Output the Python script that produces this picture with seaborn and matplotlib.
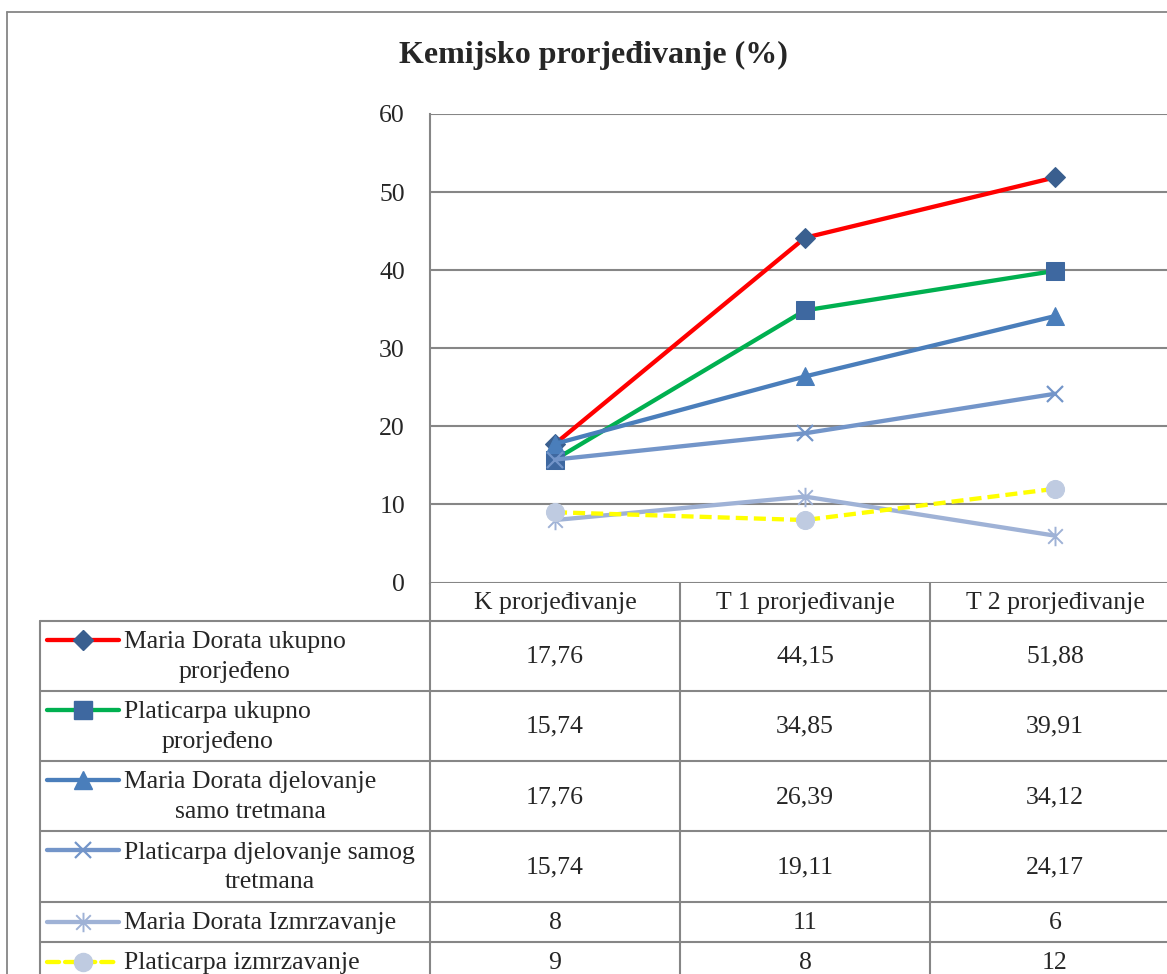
import numpy as np
import pandas as pd
import matplotlib
matplotlib.use("Agg")
import matplotlib.pyplot as plt
from matplotlib.path import Path
from matplotlib.lines import Line2D
import seaborn as sns

# chart data
title = "Kemijsko prorjeđivanje (%)"
categories = ["K prorjeđivanje", "T 1 prorjeđivanje", "T 2 prorjeđivanje"]
series_names = [
    "Maria Dorata ukupno\nprorjeđeno",
    "Platicarpa ukupno\nprorjeđeno",
    "Maria Dorata djelovanje\nsamo tretmana",
    "Platicarpa djelovanje samog\ntretmana",
    "Maria Dorata Izmrzavanje",
    "Platicarpa izmrzavanje",
]
md_ukupno = [17.76, 44.15, 51.88]
pl_ukupno = [15.74, 34.85, 39.91]
md_tretman = [17.76, 26.39, 34.12]
pl_tretman = [15.74, 19.11, 24.17]
md_izmrz = [8, 11, 6]
pl_izmrz = [9, 8, 12]
all_values = [md_ukupno, pl_ukupno, md_tretman, pl_tretman, md_izmrz, pl_izmrz]
y_ticks = [0, 10, 20, 30, 40, 50, 60]

# Excel-like star marker (vertical bar + X)
star = Path([(0, -1), (0, 1), (-0.75, -0.75), (0.75, 0.75), (-0.75, 0.75), (0.75, -0.75)],
            [Path.MOVETO, Path.LINETO, Path.MOVETO, Path.LINETO, Path.MOVETO, Path.LINETO])

styles = [
    dict(color="#FF0000", marker="D", markersize=10.5, markerfacecolor="#3A5F8F", markeredgecolor="#3A5F8F"),
    dict(color="#00B050", marker="s", markersize=12.5, markerfacecolor="#3E68A0", markeredgecolor="#3E68A0"),
    dict(color="#4A7EBB", marker="^", markersize=12.5, markerfacecolor="#4A7EBB", markeredgecolor="#4A7EBB"),
    dict(color="#7395C9", marker="x", markersize=12, markeredgewidth=1.6, markeredgecolor="#7395C9"),
    dict(color="#9FB2D6", marker=star, markersize=14, markeredgewidth=1.4, markeredgecolor="#9FB2D6"),
    dict(color="#FFFF00", marker="o", markersize=13, markerfacecolor="#BFCBE1", markeredgecolor="#BFCBE1",
         linestyle=(0, (2.8, 1.4))),
]

GRAY = "#868686"
FS = 18.5

sns.set_style("white")
plt.rcParams['font.family'] = ['Liberation Serif', 'DejaVu Serif']

W, H = 1167, 974
fig = plt.figure(figsize=(W / 100, H / 100), dpi=100)

# overlay in pixel coordinates for frame and data table
ax_t = fig.add_axes([0, 0, 1, 1])
ax_t.set_xlim(0, W)
ax_t.set_ylim(H, 0)
ax_t.axis("off")

# plot area
left, right, top, bottom = 430, 1180, 114, 582.5
ax = fig.add_axes([left / W, 1 - bottom / H, (right - left) / W, (bottom - top) / H])
ax.patch.set_alpha(0)

for vals, st in zip(all_values, styles):
    sns.lineplot(x=categories, y=vals, ax=ax, linewidth=3.1, sort=False, legend=False,
                 solid_capstyle="round", **st)

ax.set_xlim(-0.5, 2.5)
ax.set_ylim(0, 60)
ax.set_yticks(y_ticks)
ax.set_xticks([])
ax.set_xlabel("")
ax.set_ylabel("")
ax.yaxis.grid(True, color=GRAY, linewidth=1.5)
ax.xaxis.grid(False)
for s in ["top", "right", "bottom"]:
    ax.spines[s].set_visible(False)
ax.spines["left"].set_color(GRAY)
ax.spines["left"].set_linewidth(1.5)
ax.tick_params(axis="y", length=0, pad=18, labelsize=FS)

fig.text(593 / W, 1 - 55 / H, title, ha="center", va="center", fontsize=23, fontweight="bold")

# outer chart frame
ax_t.plot([7, W + 5], [12, 12], color=GRAY, lw=1.3)
ax_t.plot([7, 7], [12, H + 5], color=GRAY, lw=1.3)

# data table
col_edges = [430, 680, 930, 1180]
col_centers = [(a + b) / 2 for a, b in zip(col_edges[:-1], col_edges[1:])]
header_top, header_bot = 582.5, 620.7
row_edges = [620.7, 690.7, 761, 831, 901.7, 941.5, 983]
tab_left = 40

for x in col_edges:
    ax_t.plot([x, x], [header_top, H + 10], color=GRAY, lw=1.5)
ax_t.plot([tab_left, tab_left], [header_bot, H + 10], color=GRAY, lw=1.5)
for y in row_edges:
    ax_t.plot([tab_left, 1180], [y, y], color=GRAY, lw=1.5)

for cx, cat in zip(col_centers, categories):
    ax_t.text(cx, (header_top + header_bot) / 2 + 1.5, cat, ha="center", va="center", fontsize=FS)

for i, (name, vals, st) in enumerate(zip(series_names, all_values, styles)):
    y0, y1 = row_edges[i], row_edges[i + 1]
    yc = (y0 + y1) / 2 + 1
    two_lines = "\n" in name
    key_y = y0 + 19 if two_lines else yc - 1
    ax_t.text(124, yc, name, ha="left", va="center", multialignment="center",
              fontsize=FS, linespacing=1.45)
    line_kw = {k: v for k, v in st.items() if not k.startswith("marker")}
    mark_kw = {k: v for k, v in st.items() if k.startswith("marker")}
    ax_t.add_line(Line2D([47, 119], [key_y, key_y], linewidth=3.1, solid_capstyle="round",
                         dash_capstyle="round", **line_kw))
    ax_t.add_line(Line2D([83], [key_y], linestyle="none", **mark_kw))
    for cx, v in zip(col_centers, vals):
        ax_t.text(cx, yc, f"{v:g}".replace(".", ","), ha="center", va="center", fontsize=FS)

fig.savefig("out.png", dpi=100)
